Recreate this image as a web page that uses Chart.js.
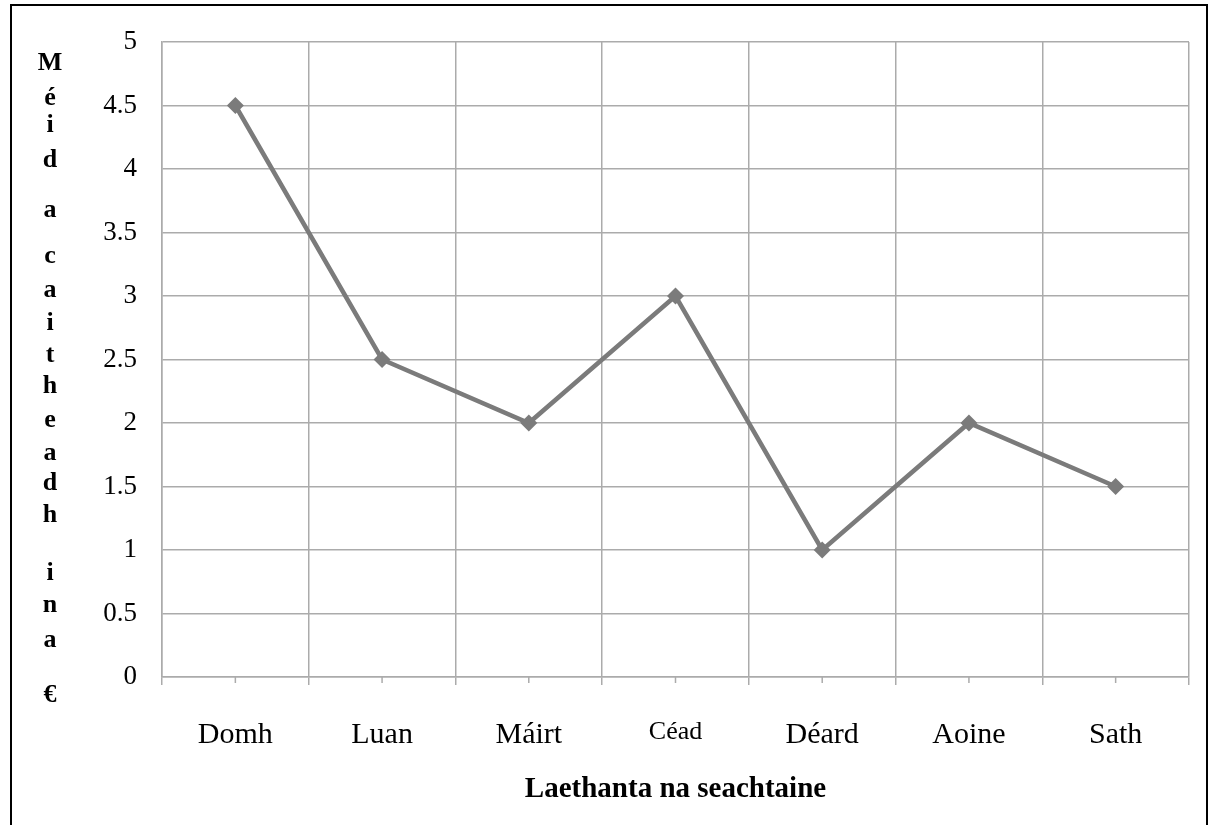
<!DOCTYPE html>
<html>
<head>
<meta charset="utf-8">
<title>Méid a caitheadh</title>
<script src="https://cdn.jsdelivr.net/npm/chart.js@4.4.0/dist/chart.umd.min.js"></script>
<style>
  html, body { margin: 0; padding: 0; background: #fff; overflow: hidden; }
  #wrap { position: relative; width: 1209px; height: 825px; }
  #frame {
    position: absolute; left: 10px; top: 4px; width: 1194px; height: 900px;
    border: 2px solid #000; border-bottom: none; pointer-events: none;
  }
</style>
</head>
<body>
<div id="wrap">
  <canvas id="myChart" width="1209" height="825"></canvas>
  <div id="frame"></div>
</div>
<script>
const laethanta = ["Domh", "Luan", "Máirt", "Céad", "Déard", "Aoine", "Sath"]
const caiteachas = [4.5, 2.5, 2, 3, 1, 2, 1.5]
const yTicks = [0, 0.5, 1, 1.5, 2, 2.5, 3, 3.5, 4, 4.5, 5]
const teidealY = "Méid a caitheadh ina €"   // litreacha ina seasamh
const teidealX = "Laethanta na seachtaine"

const liath = "#7b7b7b"
const greille = "#ababab"
const cloFont = "'Liberation Serif', 'Times New Roman', serif"

// baselines of the stacked y-title letters
const teidealYBaselines = [70, 105, 132, 167, null, 217, null, 263, 297, 330, 362, 393, 427, 460, 490, 522, null, 580, 612, 647, null, 702]

const teidealYPlugin = {
  id: "teidealY",
  afterDraw(chart) {
    const ctx = chart.ctx
    ctx.save()
    ctx.font = "bold 26px " + cloFont
    ctx.fillStyle = "#000"
    ctx.textAlign = "center"
    ctx.textBaseline = "alphabetic"
    const litreacha = Array.from(teidealY)
    litreacha.forEach((l, i) => {
      const y = teidealYBaselines[i]
      if (l.trim() === "" || y == null) return
      ctx.fillText(l, 50, y)
    })
    ctx.restore()
  }
}

// short tick marks under each category centre
const marcannaPlugin = {
  id: "marcanna",
  afterDatasetsDraw(chart) {
    const x = chart.scales.x
    const ctx = chart.ctx
    ctx.save()
    ctx.strokeStyle = greille
    ctx.lineWidth = 1.5
    laethanta.forEach((d, i) => {
      const px = x.getPixelForValue(i)
      ctx.beginPath()
      ctx.moveTo(px, x.top)
      ctx.lineTo(px, x.top + 6)
      ctx.stroke()
    })
    ctx.restore()
  }
}

const miGraf = document.querySelector("#myChart")

new Chart(miGraf, {
  type: "line",
  data: {
    labels: laethanta,
    datasets: [{
      data: caiteachas,
      borderColor: liath,
      backgroundColor: liath,
      borderWidth: 4.5,
      pointStyle: "rectRot",
      pointRadius: 8.5,
      pointBorderWidth: 0,
      pointBackgroundColor: liath,
      tension: 0
    }]
  },
  options: {
    responsive: false,
    animation: false,
    events: [],
    layout: { padding: { left: 0, right: 20, top: 42, bottom: 0 } },
    plugins: { legend: { display: false }, tooltip: { enabled: false } },
    scales: {
      x: {
        offset: true,
        grid: { offset: true, color: greille, lineWidth: 1.5, tickLength: 8 },
        border: { color: greille, width: 1.5 },
        ticks: {
          color: "#000",
          padding: 32,
          maxRotation: 0,
          font: (c) => ({
            family: cloFont,
            size: laethanta[c.index] === "Céad" ? 26 : 30
          })
        },
        title: {
          display: true,
          text: teidealX,
          color: "#000",
          font: { family: cloFont, size: 29, weight: "bold" },
          padding: { top: 0, bottom: 18 }
        },
        afterFit: (s) => { s.height = 148 }
      },
      y: {
        min: 0,
        max: 5,
        afterBuildTicks: (s) => { s.ticks = yTicks.map(v => ({ value: v })) },
        grid: { color: greille, lineWidth: 1.5, drawTicks: false },
        border: { color: greille, width: 1.5 },
        ticks: {
          color: "#000",
          padding: 25,
          callback: (v) => String(v),
          font: { family: cloFont, size: 27 }
        },
        afterFit: (s) => { s.width = 162 }
      }
    }
  },
  plugins: [teidealYPlugin, marcannaPlugin]
})
</script>
</body>
</html>
